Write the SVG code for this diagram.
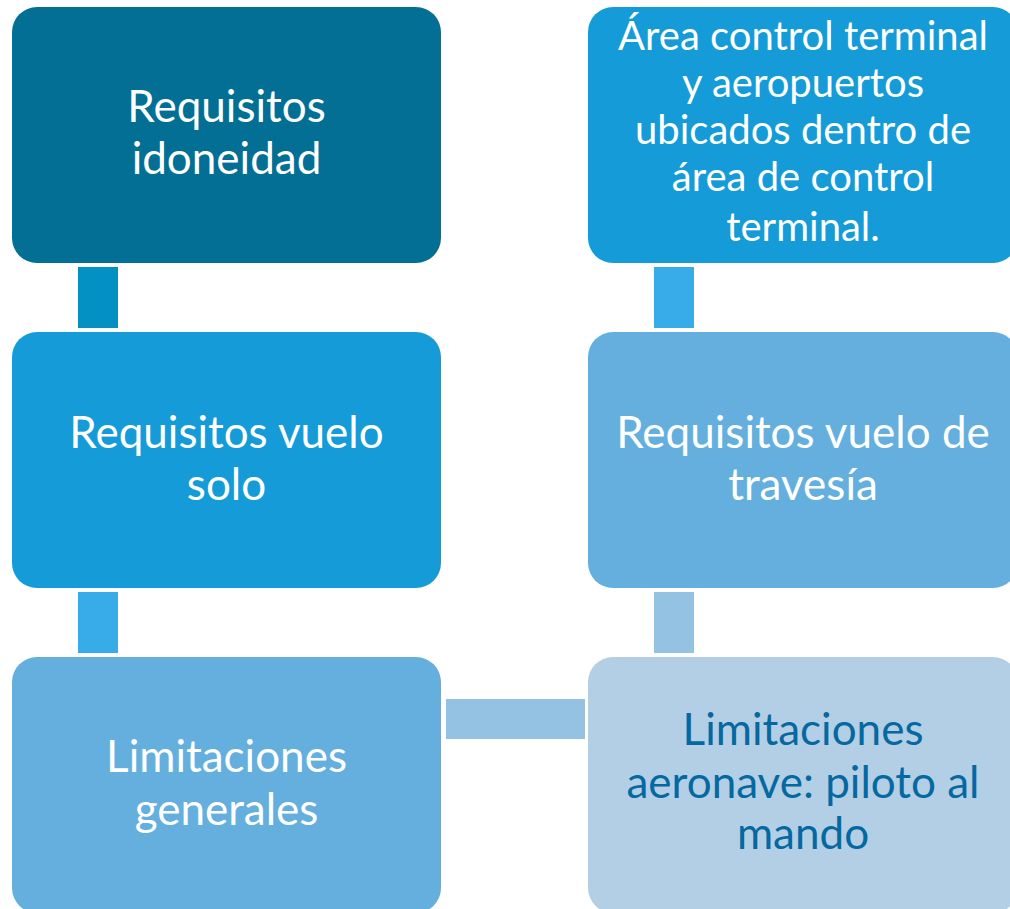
<svg xmlns="http://www.w3.org/2000/svg" width="1010" height="909" viewBox="0 0 1010 909">
<style>
.t{font-family:Lato,"Open Sans","Liberation Sans",sans-serif;text-anchor:middle;fill:#ffffff}
.big{font-size:44px}
.sm{font-size:40px}
.dk{fill:#0568A0}
</style>
<rect width="1010" height="909" fill="#ffffff"/>
<g id="connectors">
<rect x="78" y="267" width="40" height="61" fill="#0391C4"/>
<rect x="78" y="592" width="40" height="61" fill="#37ACE8"/>
<rect x="654" y="267" width="40" height="61" fill="#37ACE8"/>
<rect x="654" y="592" width="40" height="61" fill="#93C2E3"/>
<rect x="446" y="699" width="139" height="40" fill="#93C2E3"/>
</g>
<g id="n1">
<rect x="12" y="7" width="429" height="256" rx="25" fill="#036F94"/>
<text class="t big" x="226.5" y="122">Requisitos</text>
<text class="t big" x="226.5" y="174">idoneidad</text>
</g>
<g id="n2">
<rect x="12" y="332" width="429" height="256" rx="25" fill="#159BD7"/>
<text class="t big" x="226.5" y="448">Requisitos vuelo</text>
<text class="t big" x="226.5" y="500">solo</text>
</g>
<g id="n3">
<rect x="12" y="657" width="429" height="256" rx="25" fill="#64AFDD"/>
<text class="t big" x="226.5" y="772">Limitaciones</text>
<text class="t big" x="226.5" y="825">generales</text>
</g>
<g id="n4">
<rect x="588" y="7" width="430" height="256" rx="25" fill="#159BD7"/>
<text class="t sm" x="803" y="50">Área control terminal</text>
<text class="t sm" x="803" y="97">y aeropuertos</text>
<text class="t sm" x="803" y="144">ubicados dentro de</text>
<text class="t sm" x="803" y="191">área de control</text>
<text class="t sm" x="803" y="241">terminal.</text>
</g>
<g id="n5">
<rect x="588" y="332" width="430" height="256" rx="25" fill="#64AFDD"/>
<text class="t big" x="803" y="448">Requisitos vuelo de</text>
<text class="t big" x="803" y="500">travesía</text>
</g>
<g id="n6">
<rect x="588" y="657" width="430" height="256" rx="25" fill="#B3CFE5"/>
<text class="t big dk" x="803" y="745">Limitaciones</text>
<text class="t big dk" x="803" y="798">aeronave: piloto al</text>
<text class="t big dk" x="803" y="849">mando</text>
</g>
</svg>
